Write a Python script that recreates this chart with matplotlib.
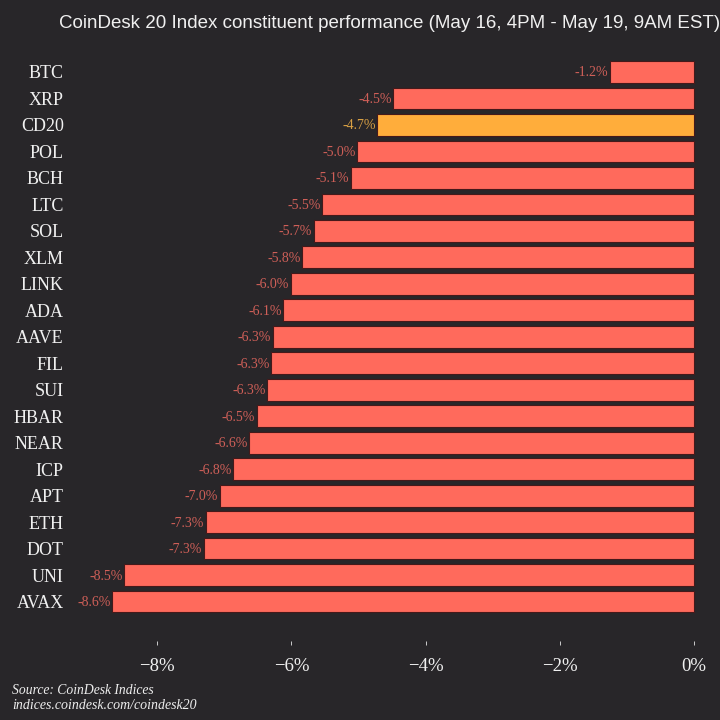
import matplotlib
matplotlib.use('Agg')
import matplotlib.pyplot as plt

# data
tokens = ['BTC', 'XRP', 'CD20', 'POL', 'BCH', 'LTC', 'SOL', 'XLM', 'LINK', 'ADA', 'AAVE',
          'FIL', 'SUI', 'HBAR', 'NEAR', 'ICP', 'APT', 'ETH', 'DOT', 'UNI', 'AVAX']
values = [-1.25, -4.48, -4.72, -5.02, -5.11, -5.54, -5.67, -5.84, -6.01, -6.12, -6.28,
          -6.30, -6.36, -6.52, -6.63, -6.87, -7.07, -7.28, -7.31, -8.49, -8.67]
labels = ['-1.2%', '-4.5%', '-4.7%', '-5.0%', '-5.1%', '-5.5%', '-5.7%', '-5.8%', '-6.0%', '-6.1%', '-6.3%',
          '-6.3%', '-6.3%', '-6.5%', '-6.6%', '-6.8%', '-7.0%', '-7.3%', '-7.3%', '-8.5%', '-8.6%']
xticks = [-8, -6, -4, -2, 0]
xticklabels = ['\u22128%', '\u22126%', '\u22124%', '\u22122%', '0%']

bg = '#282629'
serif = ['Liberation Serif', 'DejaVu Serif']

fig = plt.figure(figsize=(7.2, 7.2), dpi=100, facecolor=bg)
ax = fig.add_axes([70 / 720, 79.5 / 720, 646 / 720, 590.5 / 720], facecolor=bg)

colors = ['#ffad3b' if t == 'CD20' else '#ff6a5c' for t in tokens]
pos = list(range(len(tokens)))
ax.barh(pos, values, height=0.82, color=colors, edgecolor='#45191a', linewidth=0.8)

# value labels left of the bars
for p, v, lab, t in zip(pos, values, labels, tokens):
    c = '#d9a044' if t == 'CD20' else '#cf5f58'
    ax.annotate(lab, (v, p), xytext=(-1.2, -0.7), textcoords='offset points', ha='right', va='center',
                fontsize=10, color=c, family=serif)

ax.set_xlim(-9.3, 0.328)
ax.set_ylim(21.47, -0.83)
ax.set_yticks(pos)
ax.set_yticklabels(tokens, family=serif, fontsize=13, color='#f0f0f0')
ax.set_xticks(xticks)
ax.set_xticklabels(xticklabels, family=serif, fontsize=13.5, color='#f0f0f0')
ax.tick_params(axis='y', length=0, pad=4.5)
ax.tick_params(axis='x', length=3, width=0.7, color='#cccccc', pad=9.3)
for s in ax.spines.values():
    s.set_visible(False)

fig.text(59 / 720, 1 - 23 / 720, 'CoinDesk 20 Index constituent performance (May 16, 4PM - May 19, 9AM EST)',
         family=['Liberation Sans', 'DejaVu Sans'], fontsize=13.5, color='#f0f0f0', ha='left', va='center')
fig.text(12 / 720, 1 - 691 / 720, 'Source: CoinDesk Indices', family=serif, style='italic',
         fontsize=9.8, color='#eeeeee', ha='left', va='center')
fig.text(12 / 720, 1 - 705.5 / 720, 'indices.coindesk.com/coindesk20', family=serif, style='italic',
         fontsize=10, color='#eeeeee', ha='left', va='center')

fig.savefig('out.png', dpi=100, facecolor=bg)
